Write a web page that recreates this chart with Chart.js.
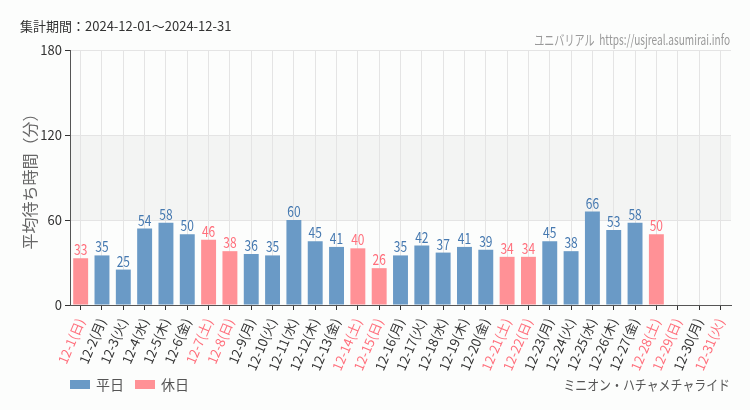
<!DOCTYPE html>
<html>
<head>
<meta charset="utf-8">
<script src="https://cdn.jsdelivr.net/npm/chart.js@4"></script>
<style>
  html, body { margin: 0; padding: 0; background: #fcfdfc; }
  #wrap { position: relative; width: 750px; height: 410px; }
</style>
</head>
<body>
<div id="wrap"><canvas id="chart" width="750" height="410"></canvas></div>
<script>
// 日付ラベル
const days = ['12-1', '12-2', '12-3', '12-4', '12-5', '12-6', '12-7', '12-8', '12-9', '12-10',
  '12-11', '12-12', '12-13', '12-14', '12-15', '12-16', '12-17', '12-18', '12-19', '12-20',
  '12-21', '12-22', '12-23', '12-24', '12-25', '12-26', '12-27', '12-28', '12-29', '12-30', '12-31'];
const weekdays = ['日', '月', '火', '水', '木', '金', '土', '日', '月', '火',
  '水', '木', '金', '土', '日', '月', '火', '水', '木', '金',
  '土', '日', '月', '火', '水', '木', '金', '土', '日', '月', '火'];
// 休日フラグ (1 = 休日)
const holiday = [1, 0, 0, 0, 0, 0, 1, 1, 0, 0,
  0, 0, 0, 1, 1, 0, 0, 0, 0, 0,
  1, 1, 0, 0, 0, 0, 0, 1, 1, 0, 1];
// 平均待ち時間（分）
const waits = [33, 35, 25, 54, 58, 50, 46, 38, 36, 35,
  60, 45, 41, 40, 26, 35, 42, 37, 41, 39,
  34, 34, 45, 38, 66, 53, 58, 50, null, null, null];
const yTicks = [0, 60, 120, 180];

const BLUE = 'rgb(106,154,198)';
const PINK = 'rgb(255,145,150)';
const BLUE_TXT = '#4679b0';
const PINK_TXT = '#ff6f7c';
const SANS = '"Noto Sans CJK JP", "Noto Sans", sans-serif';

const labels = days.map((d, i) => d + '(' + weekdays[i] + ')');
const weekdayData = waits.map((v, i) => holiday[i] ? null : v);
const holidayData = waits.map((v, i) => holiday[i] ? v : null);

// 横に詰めた文字 (condensed 風)
function narrowText(ctx, text, x, y, sx) {
  ctx.save();
  ctx.translate(x, y);
  ctx.scale(sx, 1);
  ctx.fillText(text, 0, 0);
  ctx.restore();
}

const bgPlugin = {
  id: 'bg',
  beforeDraw(chart) {
    const { ctx, chartArea, scales } = chart;
    ctx.save();
    ctx.fillStyle = '#fcfdfc';
    ctx.fillRect(0, 0, chart.width, chart.height);
    const y1 = scales.y.getPixelForValue(120);
    const y2 = scales.y.getPixelForValue(60);
    ctx.fillStyle = '#f3f4f3';
    ctx.fillRect(chartArea.left, y1, chartArea.right - chartArea.left, y2 - y1);
    ctx.restore();
  }
};

const labelPlugin = {
  id: 'barLabels',
  afterDatasetsDraw(chart) {
    const { ctx } = chart;
    ctx.save();
    ctx.font = '15px ' + SANS;
    ctx.textAlign = 'center';
    ctx.textBaseline = 'alphabetic';
    chart.data.datasets.forEach((ds, di) => {
      const meta = chart.getDatasetMeta(di);
      ctx.fillStyle = di === 0 ? BLUE_TXT : PINK_TXT;
      meta.data.forEach((el, i) => {
        const v = ds.data[i];
        if (v === null || v === undefined) return;
        narrowText(ctx, String(v), el.x, el.y - 3, 0.8);
      });
    });
    ctx.restore();
  }
};

const textPlugin = {
  id: 'texts',
  afterDraw(chart) {
    const { ctx } = chart;
    ctx.save();
    ctx.textBaseline = 'middle';
    ctx.fillStyle = '#333';
    ctx.font = '13px ' + SANS;
    ctx.textAlign = 'left';
    ctx.fillText('集計期間：2024-12-01～2024-12-31', 20, 26);

    ctx.fillStyle = '#999';
    ctx.font = '14px ' + SANS;
    ctx.textAlign = 'right';
    narrowText(ctx, 'ユニバリアル  https://usjreal.asumirai.info', 730, 40, 0.72);

    ctx.fillStyle = '#555';
    ctx.font = '14px ' + SANS;
    narrowText(ctx, 'ミニオン・ハチャメチャライド', 730, 385, 0.85);

    // 凡例
    const items = [['平日', BLUE, 70], ['休日', PINK, 135]];
    ctx.textAlign = 'left';
    ctx.font = '14px ' + SANS;
    items.forEach(([t, c, x]) => {
      ctx.fillStyle = c;
      ctx.fillRect(x, 380, 20, 9);
      ctx.fillStyle = '#555';
      ctx.fillText(t, x + 26, 385);
    });
    ctx.restore();
  }
};

new Chart(document.getElementById('chart'), {
  type: 'bar',
  data: {
    labels: labels,
    datasets: [
      { label: '平日', data: weekdayData, backgroundColor: BLUE, grouped: false,
        barPercentage: 0.7, categoryPercentage: 1 },
      { label: '休日', data: holidayData, backgroundColor: PINK, grouped: false,
        barPercentage: 0.7, categoryPercentage: 1 }
    ]
  },
  options: {
    responsive: false,
    animation: false,
    layout: { padding: { top: 50, right: 19, bottom: 35, left: 0 } },
    plugins: {
      legend: { display: false },
      tooltip: { enabled: false }
    },
    scales: {
      x: {
        afterFit(scale) { scale.height = 70; },
        grid: { offset: false, color: '#e4e4e4', tickColor: '#333', tickLength: 5, drawOnChartArea: true },
        border: { color: '#555' },
        ticks: {
          autoSkip: false,
          minRotation: 67,
          maxRotation: 67,
          padding: 6,
          font: { size: 13, family: SANS },
          color: (c) => holiday[c.index] ? PINK_TXT : '#333'
        }
      },
      y: {
        min: 0,
        max: 180,
        afterFit(scale) { scale.width = 70; },
        afterBuildTicks(scale) { scale.ticks = yTicks.map(v => ({ value: v })); },
        grid: { color: '#e4e4e4', tickColor: '#333', tickLength: 5 },
        border: { color: '#555' },
        ticks: { padding: 3, font: { size: 13, family: SANS }, color: '#333' },
        title: {
          display: true,
          text: '平均待ち時間（分）',
          color: '#666',
          font: { size: 16, family: SANS },
          padding: { top: 20, bottom: 0 }
        }
      }
    }
  },
  plugins: [bgPlugin, labelPlugin, textPlugin]
});
</script>
</body>
</html>
